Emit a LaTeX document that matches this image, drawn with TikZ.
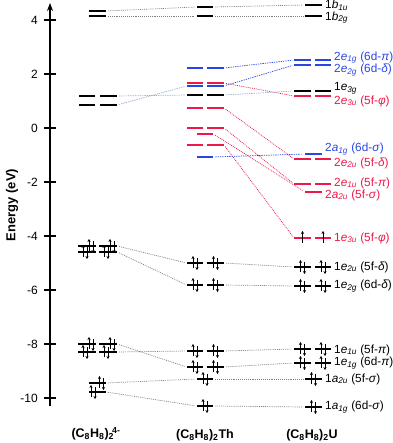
\documentclass[tikz,border=0pt]{standalone}
\usepackage{fontspec}
\setmainfont{Liberation Sans}
\usetikzlibrary{arrows.meta}
\definecolor{myred}{RGB}{236,24,72}
\definecolor{myblue}{RGB}{40,70,230}
\definecolor{lblue}{RGB}{150,175,205}
\definecolor{dgray}{RGB}{125,125,125}
\newcommand\orb[3]{#1\textit{#2}\textsubscript{\textit{#3}}}
\newcommand\pairlv[5]{\node[#5] (#1a) at (#2,#4) {}; \node[#5] (#1b) at (#3,#4) {};}
\newcommand\elp[2]{\draw[el] (#1-2,#2+5) -- (#1-2,#2-7); \draw[el] (#1+2,#2-5) -- (#1+2,#2+7);}
\newcommand\elu[2]{\draw[el] (#1,#2+5) -- (#1,#2-7);}
\begin{document}
\begin{tikzpicture}[x=1pt,y=-1pt,
 lk/.style={fill=black,inner sep=0pt,minimum height=2pt,minimum width=16.5pt,draw=none},
 lkw/.style={lk,minimum width=18pt},
 lr/.style={lk,fill=myred,minimum height=2.4pt},
 lb/.style={lk,fill=myblue,minimum height=2.4pt},
 el/.style={-{Stealth[length=3pt,width=3.2pt]},line width=0.7pt},
 cg/.style={dgray,line width=0.7pt,dash pattern=on 0.9pt off 1pt,shorten <=2pt,shorten >=2pt},
 cr/.style={cg,myred},
 cb/.style={cg,myblue,dash pattern=on 1.3pt off 1pt},
 cl/.style={cg,lblue,dash pattern=on 1.3pt off 1pt},
 lab/.style={anchor=west,inner sep=0pt,font=\fontsize{11.8}{13}\selectfont},
 tick/.style={anchor=east,inner sep=0pt,font=\fontsize{12}{14}\selectfont},
 cmp/.style={inner sep=0pt,font=\fontsize{12.5}{15}\selectfont\bfseries}
]
\useasboundingbox (0,0) rectangle (392,443);
% axis
\coordinate (axb) at (50,406);
\coordinate (axt) at (50,3);
\draw[line width=1.3pt,-{Stealth[length=8pt,width=6pt]}] (axb) -- (axt);
\foreach \e in {4,2,0,-2,-4,-6,-8,-10}{
  \draw[line width=1.2pt] (44,128-27*\e) -- (56,128-27*\e);
  \node[tick] (t\e) at (38,128-27*\e) {\e};
}
\node[rotate=90,inner sep=0pt,font=\fontsize{13}{15}\selectfont\bfseries] (elab) at (12,205) {Energy (eV)};
% ligand levels
\node[lk] (Lb1) at (97.5,11) {};
\node[lk] (Lb2) at (97.5,16) {};
\pairlv{La}{87}{108.5}{96}{lk}
\pairlv{Lb}{87}{108.5}{105}{lk}
\pairlv{Lc}{87}{108}{246}{lkw}
\pairlv{Ld}{87}{108}{252}{lkw}
\pairlv{Le}{87}{108}{344}{lkw}
\pairlv{Lf}{87}{108}{352}{lkw}
\node[lk] (Lg) at (97.5,383) {};
\node[lk] (Lh) at (97.5,392) {};
% Th levels
\node[lk] (Ta) at (205,7) {};
\node[lk] (Tb) at (205,16) {};
\pairlv{Tc}{195}{215.5}{68}{lb}
\pairlv{Td}{195}{215.5}{86}{lb}
\pairlv{Te}{195}{215.5}{83}{lr}
\pairlv{Tf}{195}{215.5}{95}{lk}
\pairlv{Tg}{195}{215.5}{108}{lr}
\pairlv{Th}{195}{215.5}{128}{lr}
\node[lr] (Ti) at (205,134) {};
\pairlv{Tj}{195}{215.5}{145}{lr}
\node[lb] (Tk) at (205,157) {};
\pairlv{Tl}{195}{215.5}{263}{lk}
\pairlv{Tm}{195}{215.5}{285}{lk}
\pairlv{Tn}{195}{215.5}{351}{lk}
\pairlv{To}{195}{215.5}{367}{lk}
\node[lk] (Tp) at (205,379) {};
\node[lk] (Tq) at (205,406) {};
% U levels
\node[lk] (Ua) at (313.5,5) {};
\node[lk] (Ub) at (313.5,16) {};
\pairlv{Uc}{302.5}{323}{60}{lb}
\pairlv{Ud}{302.5}{323}{65}{lb}
\pairlv{Ue}{302.5}{323}{91}{lk}
\pairlv{Uf}{302.5}{323}{96}{lr}
\node[lb] (Ug) at (313.5,154) {};
\pairlv{Uh}{302.5}{323}{159}{lr}
\pairlv{Ui}{302.5}{323}{184}{lr}
\node[lr] (Uj) at (313.5,192) {};
\pairlv{Uk}{302.5}{323}{238}{lr}
\pairlv{Ul}{302.5}{323}{267}{lk}
\pairlv{Um}{302.5}{323}{286}{lk}
\pairlv{Un}{302.5}{323}{349}{lk}
\pairlv{Uo}{302.5}{323}{363}{lk}
\node[lk] (Up) at (313.5,379) {};
\node[lk] (Uq) at (313.5,407) {};
% connectors
\draw[cg] (Lb1.east) -- (Ta.west);
\draw[cg] (Lb2.east) -- (Tb.west);
\draw[cg] (Ta.east) -- (Ua.west);
\draw[cg] (Tb.east) -- (Ub.west);
\draw[cl] (Lab.east) -- (Tfa.west);
\draw[cl] (Lbb.east) -- (Tda.west);
\draw[cb] (Tcb.east) -- (Uca.west);
\draw[cb] (Tdb.east) -- (Uda.west);
\draw[cr] (Teb.east) -- (Ufa.west);
\draw[cl] (Tfb.east) -- (Uea.west);
\draw[cr] (Tgb.east) -- (Uha.west);
\draw[cr] (Thb.east) -- (Uia.west);
\draw[cr] (Ti.east) -- (Uj.west);
\draw[cr] (Tjb.east) -- (Uka.west);
\draw[cb] (Tk.east) -- (Ug.west);
\draw[cg] (Lcb.east) -- (Tla.west);
\draw[cg] (Ldb.east) -- (Tma.west);
\draw[cg] (Tlb.east) -- (Ula.west);
\draw[cg] (Tmb.east) -- (Uma.west);
\draw[cg] (Leb.east) -- (Toa.west);
\draw[cg] (Lfb.east) -- (Tna.west);
\draw[cg] (Tnb.east) -- (Una.west);
\draw[cg] (Tob.east) -- (Uoa.west);
\draw[cg] (Lg.east) -- (Tp.west);
\draw[cg] (Lh.east) -- (Tq.west);
\draw[cg] (Tp.east) -- (Up.west);
\draw[cg] (Tq.east) -- (Uq.west);
% electrons
\foreach \x in {89,110}{\elp{\x+2}{246}\elp{\x-4}{252}\elp{\x+2}{344}\elp{\x-4}{352}}
\elp{101.5}{383}\elp{93}{392}
\foreach \x in {195,215.5}{\elp{\x}{263}\elp{\x}{285}\elp{\x}{351}\elp{\x}{367}}
\elp{205}{379}\elp{205}{406}
\foreach \x in {302.5,323}{\elp{\x}{267}\elp{\x}{286}\elp{\x}{349}\elp{\x}{363}\elu{\x}{238}}
\elp{313.5}{379}\elp{313.5}{407}
% labels
\node[lab] (l1) at (325,5) {\orb{1}{b}{1u}};
\node[lab] (l2) at (325,17.5) {\orb{1}{b}{2g}};
\node[lab,myblue] (l3) at (334,57.5) {\orb{2}{e}{1g} (6d-\textit{π})};
\node[lab,myblue] (l4) at (334,70) {\orb{2}{e}{2g} (6d-\textit{δ})};
\node[lab] (l5) at (334,88.5) {\orb{1}{e}{3g}};
\node[lab,myred] (l6) at (334,101) {\orb{2}{e}{3u} (5f-\textit{φ})};
\node[lab,myblue] (l7) at (325,149) {\orb{2}{a}{1g} (6d-\textit{σ})};
\node[lab,myred] (l8) at (334,163) {\orb{2}{e}{2u} (5f-\textit{δ})};
\node[lab,myred] (l9) at (334,183) {\orb{2}{e}{1u} (5f-\textit{π})};
\node[lab,myred] (l10) at (325,195) {\orb{2}{a}{2u} (5f-\textit{σ})};
\node[lab,myred] (l11) at (334,238) {\orb{1}{e}{3u} (5f-\textit{φ})};
\node[lab] (l12) at (334,267) {\orb{1}{e}{2u} (5f-\textit{δ})};
\node[lab] (l13) at (334,286) {\orb{1}{e}{2g} (6d-\textit{δ})};
\node[lab] (l14) at (334,350) {\orb{1}{e}{1u} (5f-\textit{π})};
\node[lab] (l15) at (334,363) {\orb{1}{e}{1g} (6d-\textit{π})};
\node[lab] (l16) at (325,379) {\orb{1}{a}{2u} (5f-\textit{σ})};
\node[lab] (l17) at (325,407) {\orb{1}{a}{1g} (6d-\textit{σ})};
% compound names
\node[cmp] (c1) at (96,434) {(C\textsubscript{8}H\textsubscript{8})\textsubscript{2}\kern-0.15em\textsuperscript{4-}};
\node[cmp] (c2) at (205,435) {(C\textsubscript{8}H\textsubscript{8})\textsubscript{2}Th};
\node[cmp] (c3) at (312,435) {(C\textsubscript{8}H\textsubscript{8})\textsubscript{2}U};
\end{tikzpicture}
\end{document}
